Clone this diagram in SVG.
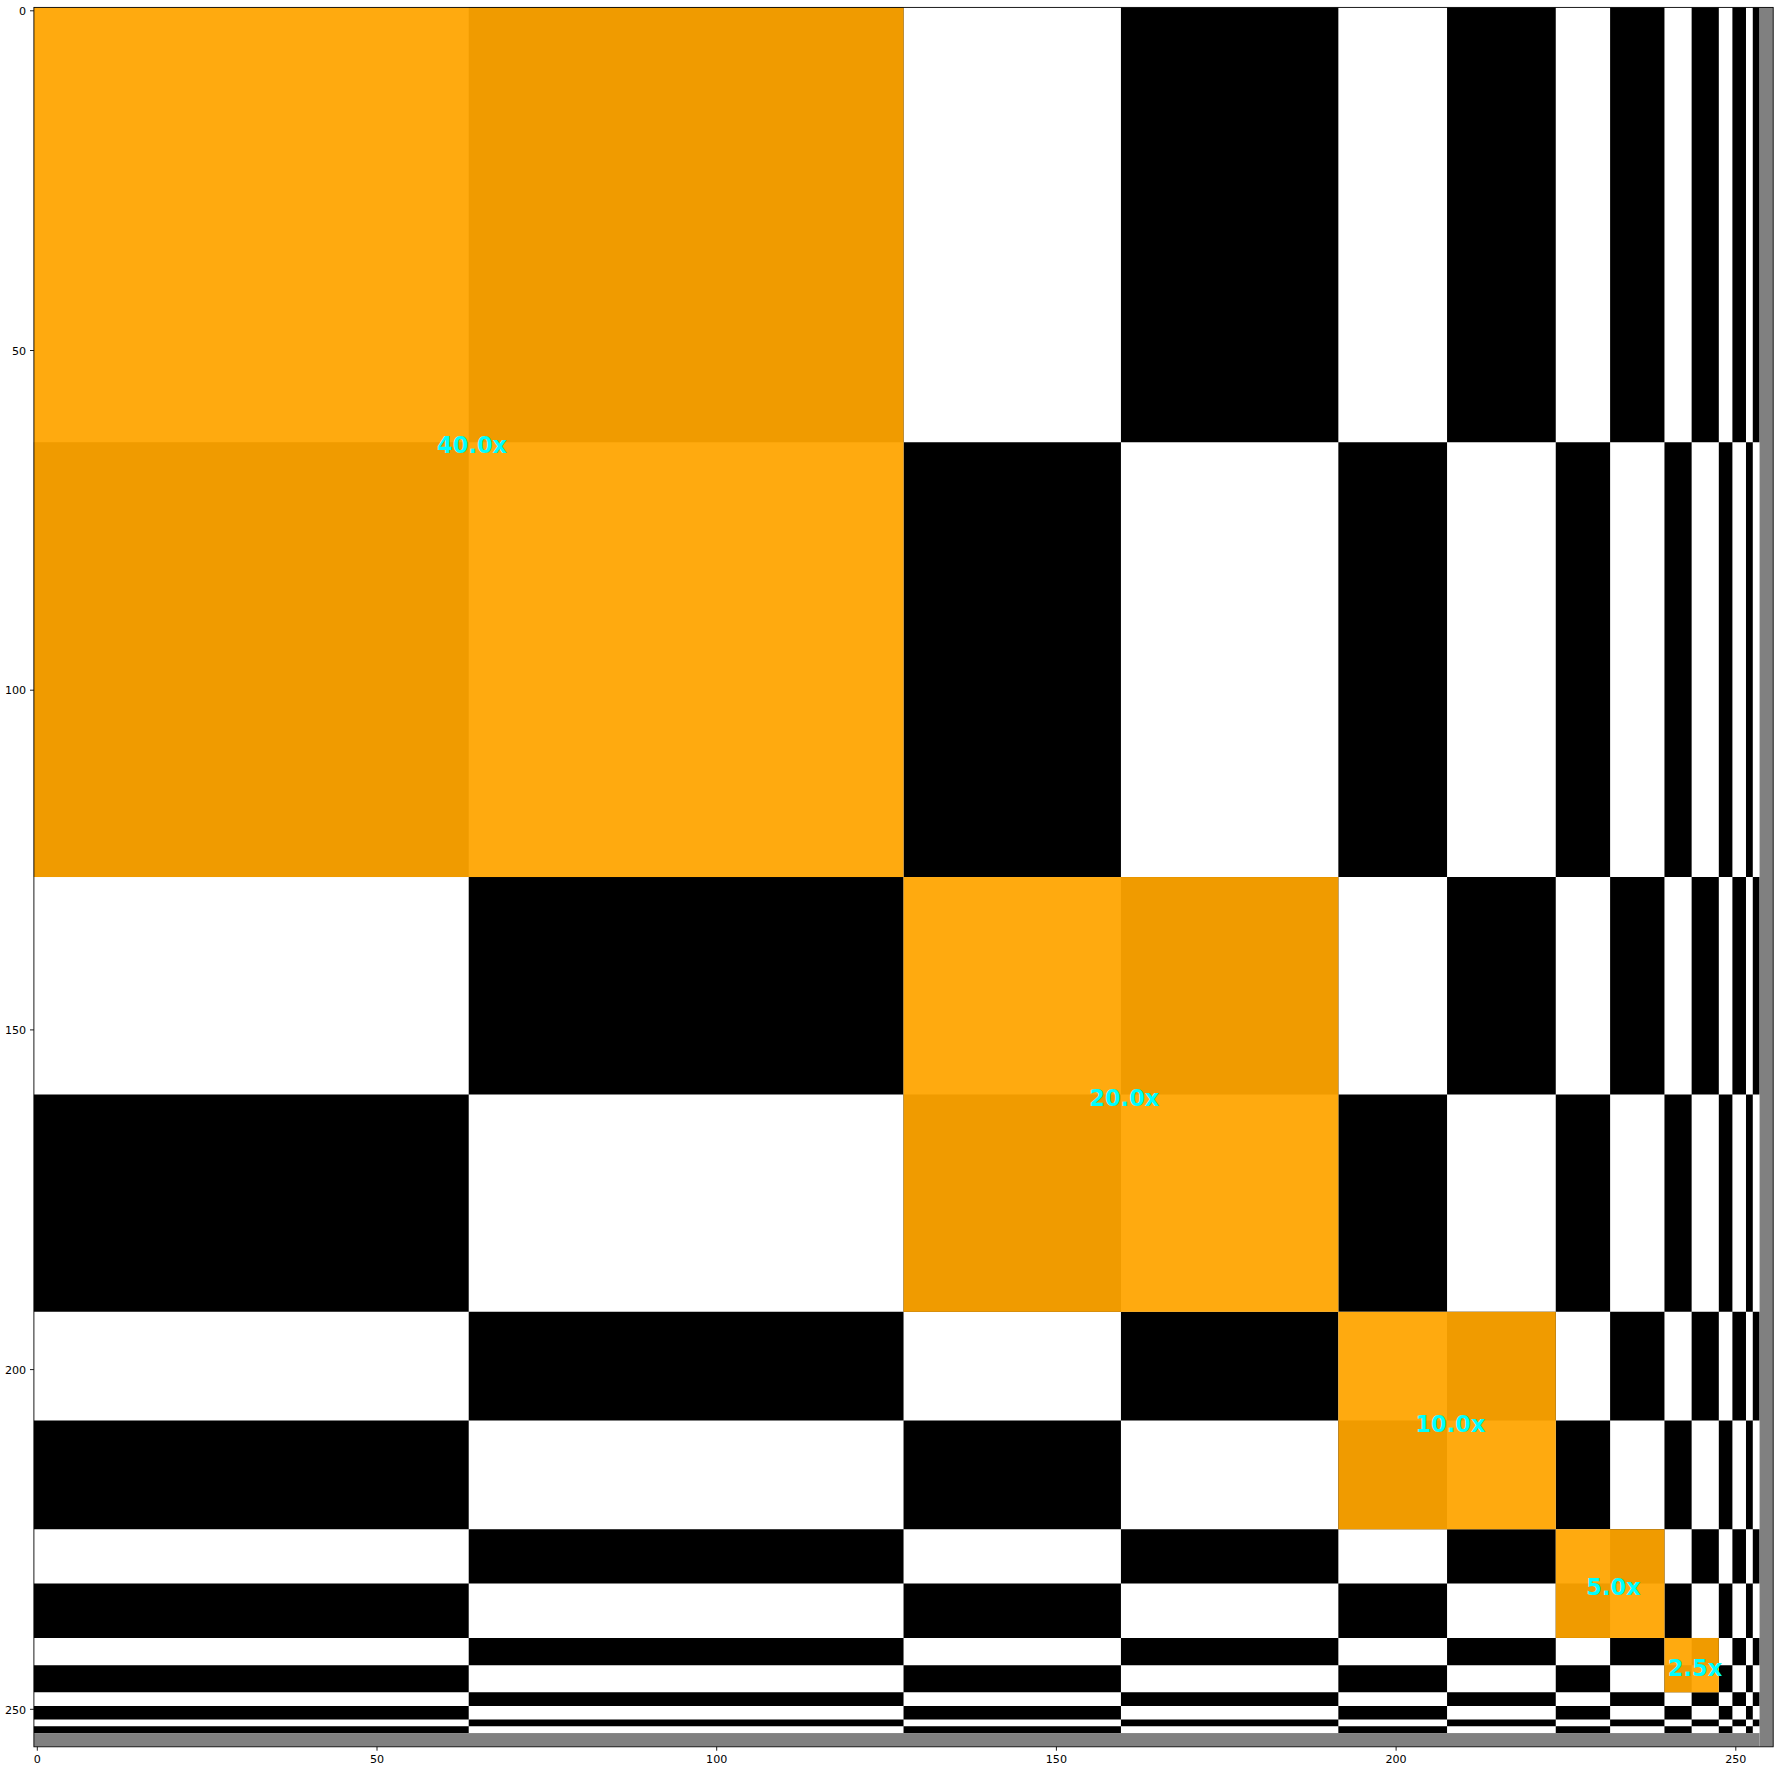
<svg xmlns="http://www.w3.org/2000/svg" width="1780" height="1771" viewBox="0 0 1780 1771">
<style>
.tick{stroke:#000;stroke-width:0.89}
.tl{font-family:"DejaVu Sans",sans-serif;font-size:11.1px;fill:#000}
.lab{font-family:"DejaVu Sans",sans-serif;font-weight:bold;font-size:22.5px;fill:#00FFFF;text-anchor:middle}
.or{fill:#FFA500;fill-opacity:0.94}
</style>
<rect width="1780" height="1771" fill="#fff"/>
<g id="image" transform="translate(33.9 7.4) scale(6.794)">
<rect x="0" y="0" width="254" height="254" fill="#fff"/>
<path fill="#000" fill-rule="evenodd" d="M0 64H254V128H0Z M0 160H254V192H0Z M0 208H254V224H0Z M0 232H254V240H0Z M0 244H254V248H0Z M0 250H254V252H0Z M0 253H254V254H0Z M64 0V254H128V0Z M160 0V254H192V0Z M208 0V254H224V0Z M232 0V254H240V0Z M244 0V254H248V0Z M250 0V254H252V0Z M253 0V254H254V0Z"/>
<rect x="254" y="0" width="2" height="256" fill="#808080"/>
<rect x="0" y="254" width="254" height="2" fill="#808080"/>
<rect class="or" x="0" y="0" width="128" height="128"/>
<rect class="or" x="128" y="128" width="64" height="64"/>
<rect class="or" x="192" y="192" width="32" height="32"/>
<rect class="or" x="224" y="224" width="16" height="16"/>
<rect class="or" x="240" y="240" width="8" height="8"/>
</g>
<g id="labels">
<text class="lab" x="472.1" y="453.4">40.0x</text>
<text class="lab" x="1124.3" y="1105.6">20.0x</text>
<text class="lab" x="1450.4" y="1431.7">10.0x</text>
<text class="lab" x="1613.5" y="1594.8">5.0x</text>
<text class="lab" x="1695.0" y="1676.3">2.5x</text>
</g>
<g id="axes">
<rect x="33.9" y="7.4" width="1739.3" height="1739.4" fill="none" stroke="#000" stroke-width="0.89"/>
<g id="xticks">
<line class="tick" x1="37.3" y1="1746.8" x2="37.3" y2="1750.7"/>
<line class="tick" x1="377.0" y1="1746.8" x2="377.0" y2="1750.7"/>
<line class="tick" x1="716.7" y1="1746.8" x2="716.7" y2="1750.7"/>
<line class="tick" x1="1056.4" y1="1746.8" x2="1056.4" y2="1750.7"/>
<line class="tick" x1="1396.1" y1="1746.8" x2="1396.1" y2="1750.7"/>
<line class="tick" x1="1735.8" y1="1746.8" x2="1735.8" y2="1750.7"/>
<text class="tl" text-anchor="middle" x="37.3" y="1762.5">0</text>
<text class="tl" text-anchor="middle" x="377.0" y="1762.5">50</text>
<text class="tl" text-anchor="middle" x="716.7" y="1762.5">100</text>
<text class="tl" text-anchor="middle" x="1056.4" y="1762.5">150</text>
<text class="tl" text-anchor="middle" x="1396.1" y="1762.5">200</text>
<text class="tl" text-anchor="middle" x="1735.8" y="1762.5">250</text>
</g>
<g id="yticks">
<line class="tick" x1="30.0" y1="10.8" x2="33.9" y2="10.8"/>
<line class="tick" x1="30.0" y1="350.5" x2="33.9" y2="350.5"/>
<line class="tick" x1="30.0" y1="690.2" x2="33.9" y2="690.2"/>
<line class="tick" x1="30.0" y1="1029.9" x2="33.9" y2="1029.9"/>
<line class="tick" x1="30.0" y1="1369.6" x2="33.9" y2="1369.6"/>
<line class="tick" x1="30.0" y1="1709.3" x2="33.9" y2="1709.3"/>
<text class="tl" text-anchor="end" x="26.1" y="15.0">0</text>
<text class="tl" text-anchor="end" x="26.1" y="354.7">50</text>
<text class="tl" text-anchor="end" x="26.1" y="694.4">100</text>
<text class="tl" text-anchor="end" x="26.1" y="1034.1">150</text>
<text class="tl" text-anchor="end" x="26.1" y="1373.8">200</text>
<text class="tl" text-anchor="end" x="26.1" y="1713.5">250</text>
</g>
</g>
</svg>
